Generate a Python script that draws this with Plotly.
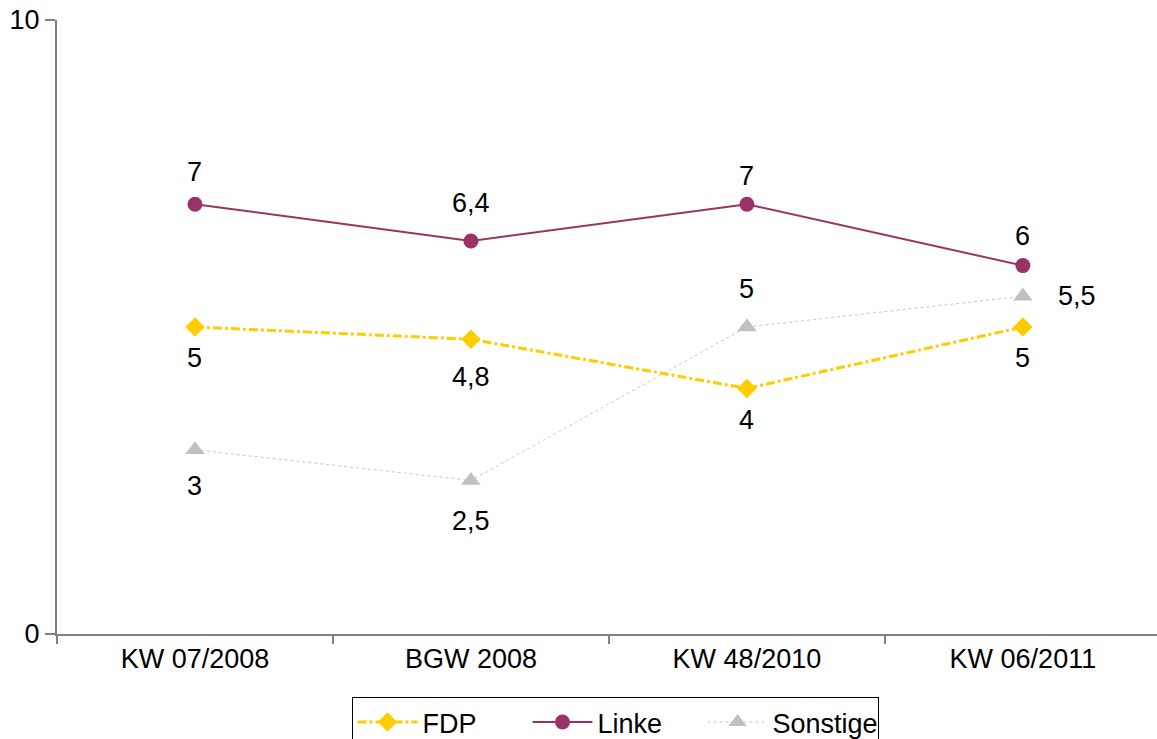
import plotly.graph_objects as go

categories = ["KW 07/2008", "BGW 2008", "KW 48/2010", "KW 06/2011"]
fdp = [5, 4.8, 4, 5]
linke = [7, 6.4, 7, 6]
sonstige = [3, 2.5, 5, 5.5]
y_ticks = [0, 10]

# label offsets (px) : (xshift, yshift)
fdp_off = [(0, -31), (0, -38), (0, -32), (0, -31)]
linke_off = [(0, 32), (0, 38), (0, 28), (0, 30)]
sonst_off = [(0, -36), (0, -40), (0, 38), (54, 0)]

FONT = "Liberation Sans, Arial, sans-serif"
FS = 27


def fmt(v):
    s = ("%g" % v)
    return s.replace(".", ",")


fig = go.Figure()
fig.add_trace(go.Scatter(
    x=categories, y=fdp, name="FDP", mode="lines+markers",
    line=dict(color="#FFCC00", width=3, dash="dashdot"),
    marker=dict(symbol="diamond", size=15, color="#FFCC00"),
))
fig.add_trace(go.Scatter(
    x=categories, y=linke, name="Linke", mode="lines+markers",
    line=dict(color="#993366", width=2),
    marker=dict(symbol="circle", size=15, color="#993366"),
))
fig.add_trace(go.Scatter(
    x=categories, y=sonstige, name="Sonstige", mode="lines+markers",
    line=dict(color="#C8C8C8", width=1, dash="dot"),
    marker=dict(symbol="triangle-up", size=17, color="#C0C0C0"),
))

annotations = []
for series, offs in ((fdp, fdp_off), (linke, linke_off), (sonstige, sonst_off)):
    for c, v, (dx, dy) in zip(categories, series, offs):
        annotations.append(dict(
            x=c, y=v, text=fmt(v), showarrow=False,
            xshift=dx, yshift=dy, font=dict(size=FS, color="black", family=FONT),
        ))

fig.update_layout(
    width=1157, height=739,
    margin=dict(l=57, r=0, t=20, b=105, autoexpand=False),
    paper_bgcolor="white", plot_bgcolor="white",
    font=dict(family=FONT, size=FS, color="black"),
    annotations=annotations,
    showlegend=True,
    legend=dict(
        orientation="h", xref="container", yref="container",
        x=615 / 1157, xanchor="center", y=42 / 739, yanchor="top",
        bordercolor="#000000", borderwidth=1,
        font=dict(size=FS, family=FONT, color="black"),
        itemwidth=60,
        entrywidth=100,
        bgcolor="white",
    ),
    xaxis=dict(
        type="category", range=[-0.5, 3.486],
        showline=True, linecolor="#808080", linewidth=2,
        ticks="outside", tickson="boundaries", ticklen=8, tickcolor="#808080", tickwidth=2,
        showgrid=False, zeroline=False,
        tickfont=dict(size=FS, family=FONT, color="black"),
    ),
    yaxis=dict(
        range=[0, 10], tickvals=y_ticks, ticktext=[fmt(t) for t in y_ticks],
        showline=True, linecolor="#808080", linewidth=2,
        ticks="outside", ticklen=10, tickcolor="#808080", tickwidth=2,
        showgrid=False, zeroline=False,
        tickfont=dict(size=FS, family=FONT, color="black"),
    ),
)

fig.write_html("out.html", config={"displayModeBar": False},
               post_script="document.body.style.margin='0';")
